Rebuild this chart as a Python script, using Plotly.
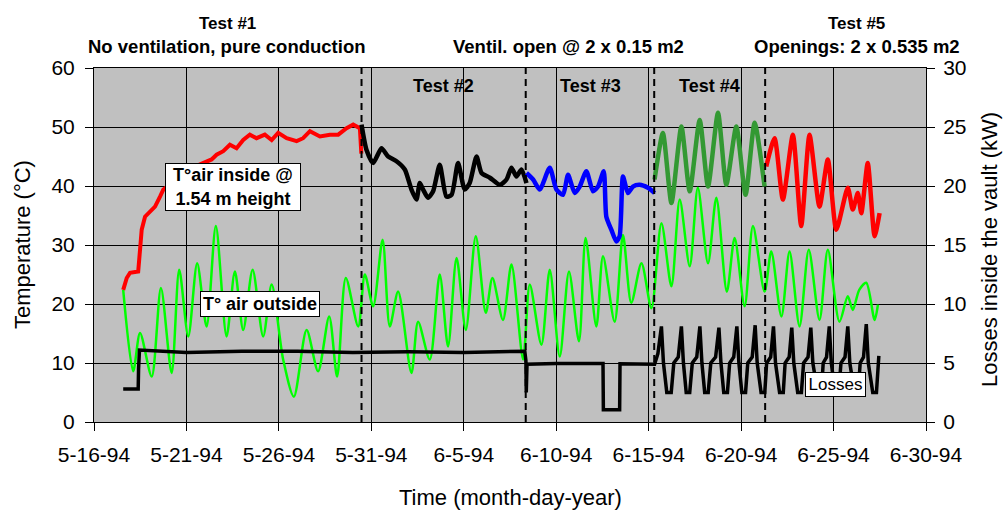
import pandas as pd
import plotly.graph_objects as go

# ---------------- data (days since 1994-05-16) ----------------
start_date = "1994-05-16"
end_date = "1994-06-30"
tick_dates = ["1994-05-16", "1994-05-21", "1994-05-26", "1994-05-31", "1994-06-05",
              "1994-06-10", "1994-06-15", "1994-06-20", "1994-06-25", "1994-06-30"]
tick_labels = ["5-16-94", "5-21-94", "5-26-94", "5-31-94", "6-5-94",
               "6-10-94", "6-15-94", "6-20-94", "6-25-94", "6-30-94"]
test_boundaries = [14.47, 23.35, 30.30, 36.30]

# Inside air temperature, Test 1 (red)
t1_days = [1.58, 1.77, 1.95, 2.39, 2.49, 2.58, 2.76, 3.30, 3.57, 3.75, 4.65, 5.62,
           6.36, 6.63, 6.99, 7.35, 7.71, 8.07, 8.43, 8.79, 9.24, 9.61, 9.96, 10.42,
           10.96, 11.31, 11.68, 12.22, 12.76, 13.21, 13.66, 14.02, 14.38, 14.46]
t1_temp = [22.4, 24.4, 25.3, 25.5, 29.2, 32.6, 34.8, 36.5, 38.2, 39.4, 41.5, 43.5,
           44.5, 45.3, 45.9, 47.0, 46.4, 47.8, 48.7, 48.1, 48.7, 47.8, 49.0, 48.1,
           47.6, 48.1, 49.3, 48.4, 48.7, 48.7, 49.8, 50.4, 49.8, 45.5]

# Test 2 (black)
t2_days = [14.47, 14.74, 15.10, 15.55, 15.91, 16.36, 16.81, 17.17, 17.44, 17.62,
           17.80, 18.07, 18.34, 18.70, 19.06, 19.34, 19.69, 20.05, 20.32, 20.69,
           20.96, 21.41, 21.95, 22.31, 22.58, 22.85, 23.12, 23.39]
t2_temp = [50.4, 46.1, 43.9, 46.4, 45.0, 44.2, 42.8, 39.4, 37.7, 40.5,
           39.4, 38.0, 39.1, 43.6, 38.2, 38.5, 43.9, 39.4, 40.5, 45.0,
           42.2, 41.4, 40.2, 41.1, 43.1, 41.6, 42.8, 40.5]

# Test 3 (blue)
t3_days = [23.39, 23.75, 24.11, 24.65, 25.01, 25.37, 25.64, 26.00, 26.27, 26.63,
           26.99, 27.26, 27.57, 27.71, 27.98, 28.25, 28.43, 28.61, 28.88, 29.15,
           29.51, 29.96, 30.32]
t3_temp = [42.2, 41.1, 39.4, 43.1, 39.4, 38.5, 41.9, 38.8, 39.9, 42.5,
           39.1, 39.9, 42.5, 34.8, 32.6, 30.6, 31.5, 41.6, 38.8, 39.9,
           40.2, 39.7, 38.8]

# Test 4 (dark green)
t4_days = [30.32, 30.77, 31.23, 31.77, 32.22, 32.76, 33.21, 33.75, 34.20, 34.74,
           35.24, 35.73, 36.27]
t4_temp = [41.1, 49.0, 37.1, 50.1, 39.1, 51.2, 39.9, 52.4, 40.2, 50.1,
           38.5, 50.7, 39.9]

# Test 5 (red)
t5_days = [36.36, 36.81, 37.26, 37.80, 38.25, 38.70, 39.24, 39.69, 40.15, 40.77,
           41.04, 41.31, 41.50, 41.85, 42.22, 42.49]
t5_temp = [43.3, 48.1, 37.7, 48.7, 33.2, 48.7, 36.5, 44.5, 32.6, 39.7,
           36.0, 38.8, 35.4, 43.9, 31.5, 35.4]

# Outside air temperature (bright green)
out_days = [1.58, 2.12, 2.49, 3.12, 3.62, 4.20, 4.61, 5.10, 5.58, 6.09,
            6.59, 7.17, 7.62, 8.07, 8.58, 9.15, 9.61, 10.23, 10.81, 11.50,
            12.12, 12.72, 13.15, 13.62, 14.29, 14.65, 15.10, 15.61, 16.00, 16.45,
            17.17, 17.53, 18.16, 18.70, 19.15, 19.61, 20.11, 20.65, 21.19, 21.55,
            22.12, 22.58, 23.21, 23.57, 24.20, 24.65, 25.19, 25.69, 26.23, 26.59,
            27.17, 27.53, 28.16, 28.61, 29.06, 29.61, 30.15, 30.69, 31.23, 31.68,
            32.22, 32.66, 33.21, 33.66, 34.23, 34.65, 35.19, 35.64, 36.27, 36.63,
            37.18, 37.62, 38.16, 38.66, 39.24, 39.69, 40.32, 40.77, 41.04, 41.39,
            41.77, 42.22, 42.40]
out_temp = [22.4, 8.6, 15.1, 7.7, 22.7, 8.3, 25.8, 14.5, 26.9, 16.2,
            33.2, 14.5, 25.5, 15.6, 25.8, 14.5, 23.3, 10.6, 4.3, 15.6,
            8.6, 17.9, 7.7, 24.4, 16.2, 25.0, 19.6, 30.9, 16.2, 22.1,
            8.3, 17.0, 10.6, 25.0, 12.8, 27.8, 15.6, 31.5, 18.5, 24.4,
            17.3, 26.7, 10.6, 23.3, 13.1, 25.8, 11.1, 25.5, 13.7, 31.2,
            16.2, 28.1, 17.0, 31.7, 20.2, 26.9, 19.3, 33.7, 23.0, 37.7,
            26.4, 39.7, 26.9, 38.0, 22.1, 31.2, 19.6, 33.2, 22.1, 28.9,
            17.9, 28.9, 16.2, 29.2, 17.3, 29.2, 17.0, 21.3, 19.0, 22.4,
            23.6, 17.3, 19.9]

# Losses inside the vault (kW, right axis)
loss_days = [1.58, 2.39, 2.41, 2.46, 5.0, 8.0, 11.0, 14.0, 17.0, 20.0,
             23.30, 23.36, 23.38, 23.42, 25.0, 27.53, 27.55, 28.43, 28.45, 30.32,
             30.50, 30.69, 30.80, 30.98, 31.22, 31.36, 31.60,
             31.77, 31.88, 32.03, 32.22, 32.36, 32.60,
             32.77, 32.88, 33.03, 33.22, 33.36, 33.62,
             33.80, 33.91, 34.06, 34.26, 34.38, 34.60,
             34.77, 34.88, 35.04, 35.24, 35.36, 35.60,
             35.76, 35.87, 36.08, 36.28, 36.38, 36.60,
             36.75, 36.86, 37.08, 37.28, 37.38, 37.60,
             37.74, 37.85, 38.06, 38.26, 38.38, 38.62,
             38.77, 38.88, 39.14, 39.34, 39.44, 39.62,
             39.77, 39.88, 40.08, 40.28, 40.40, 40.62,
             40.77, 40.88, 41.13, 41.33, 41.44, 41.62,
             41.77, 41.88, 42.12, 42.32, 42.45]
loss_kw = [2.8, 2.8, 4.5, 6.1, 5.9, 6.0, 6.0, 5.9, 5.95, 5.9,
           6.0, 5.2, 2.5, 4.9, 4.95, 4.95, 1.04, 1.04, 4.94, 4.9,
           5.8, 8.1, 5.0, 2.5, 2.5, 5.0, 5.5,
           8.1, 5.0, 2.5, 2.5, 5.0, 5.5,
           8.1, 5.0, 2.5, 2.5, 5.0, 5.5,
           8.0, 5.0, 2.5, 2.5, 5.0, 5.5,
           8.1, 5.0, 2.5, 2.5, 5.0, 5.5,
           8.2, 5.0, 2.5, 2.5, 5.0, 5.5,
           8.1, 5.0, 2.5, 2.5, 5.0, 5.5,
           8.0, 5.0, 2.5, 2.5, 5.0, 5.5,
           8.0, 5.0, 2.5, 2.5, 5.0, 5.5,
           8.1, 5.0, 2.5, 2.5, 5.0, 5.5,
           8.1, 5.0, 2.5, 2.5, 5.0, 5.5,
           8.3, 5.0, 2.5, 2.5, 5.6]

# ---------------- figure ----------------
base = pd.Timestamp(start_date)


def to_dates(days):
    return base + pd.to_timedelta(days, unit="D")


FONT = "Liberation Sans, Arial, sans-serif"
fig = go.Figure()

fig.add_trace(go.Scatter(x=to_dates(out_days), y=out_temp, mode="lines",
                         line=dict(color="#00FF00", width=2.5, shape="spline",
                                   smoothing=0.8), yaxis="y"))
fig.add_trace(go.Scatter(x=to_dates(loss_days), y=loss_kw, mode="lines",
                         line=dict(color="black", width=3.5), yaxis="y2"))
fig.add_trace(go.Scatter(x=to_dates(t1_days), y=t1_temp, mode="lines",
                         line=dict(color="#FF0000", width=4), yaxis="y"))
for d, t, c in [(t2_days, t2_temp, "black"), (t3_days, t3_temp, "#0000FF"),
                (t4_days, t4_temp, "#339933"), (t5_days, t5_temp, "#FF0000")]:
    fig.add_trace(go.Scatter(x=to_dates(d), y=t, mode="lines",
                             line=dict(color=c, width=4.5, shape="spline", smoothing=0.6),
                             yaxis="y"))

for b in test_boundaries:
    fig.add_shape(type="line", xref="x", yref="paper",
                  x0=to_dates([b])[0], x1=to_dates([b])[0], y0=0, y1=1,
                  line=dict(color="black", width=2, dash="7px,5px"))

axis_common = dict(showline=True, linecolor="black", linewidth=1, ticks="outside",
                   ticklen=8, tickcolor="black", zeroline=False,
                   tickfont=dict(family=FONT, size=21, color="black"))

fig.update_layout(
    width=1005, height=512,
    margin=dict(l=94, r=79, t=68, b=90),
    paper_bgcolor="white", plot_bgcolor="#C0C0C0",
    showlegend=False,
    font=dict(family=FONT, color="black"),
    xaxis=dict(type="date", range=[start_date, end_date],
               tickvals=tick_dates, ticktext=tick_labels,
               showgrid=True, gridcolor="black", gridwidth=1, mirror=True,
               ticklabelstandoff=6, **axis_common),
    yaxis=dict(range=[0, 60], dtick=10, showgrid=True, gridcolor="black",
               gridwidth=1, ticklabelstandoff=6, **axis_common),
    yaxis2=dict(range=[0, 30], dtick=5, overlaying="y", side="right",
                showgrid=False, ticklabelstandoff=4, **axis_common),
)

ann = []
# top titles
ann.append(dict(x=0.16, y=1.127, text="<b>Test #1</b>", size=17))
ann.append(dict(x=0.16, y=1.062, text="<b>No ventilation, pure conduction</b>", size=18.5))
ann.append(dict(x=0.57, y=1.062, text="<b>Ventil. open @ 2 x 0.15 m2</b>", size=18.5))
ann.append(dict(x=0.917, y=1.127, text="<b>Test #5</b>", size=17))
ann.append(dict(x=0.917, y=1.062, text="<b>Openings: 2 x 0.535 m2</b>", size=18.5))
ann.append(dict(x=0.42, y=0.948, text="<b>Test #2</b>", size=18))
ann.append(dict(x=0.597, y=0.948, text="<b>Test #3</b>", size=18))
ann.append(dict(x=0.740, y=0.948, text="<b>Test #4</b>", size=18))
for a in ann:
    fig.add_annotation(x=a["x"], y=a["y"], xref="paper", yref="paper", text=a["text"],
                       showarrow=False, xanchor="center", yanchor="middle",
                       font=dict(family=FONT, size=a["size"], color="black"))

# boxed labels
boxes = [
    (0.1665, 0.665, "<b>T°air inside @<br>1.54 m height</b>", 18, 132, 44),
    (0.1995, 0.332, "<b>T° air outside</b>", 18, 116, 22),
    (0.891, 0.107, "Losses", 17, 57, 21),
]
for x, y, t, s, w, h in boxes:
    fig.add_annotation(x=x, y=y, xref="paper", yref="paper", text=t, showarrow=False,
                       xanchor="center", yanchor="middle", width=w, height=h,
                       bgcolor="white", bordercolor="black", borderwidth=1, borderpad=1,
                       font=dict(family=FONT, size=s, color="black"))

# axis titles
fig.add_annotation(x=-0.0865, y=0.5, xref="paper", yref="paper", text="Temperature (°C)",
                   textangle=-90, showarrow=False, xanchor="center", yanchor="middle",
                   font=dict(family=FONT, size=22, color="black"))
fig.add_annotation(x=1.077, y=0.486, xref="paper", yref="paper",
                   text="Losses inside the vault (kW)", textangle=-90, showarrow=False,
                   xanchor="center", yanchor="middle",
                   font=dict(family=FONT, size=22, color="black"))
fig.add_annotation(x=0.501, y=-0.212, xref="paper", yref="paper",
                   text="Time (month-day-year)", showarrow=False,
                   xanchor="center", yanchor="middle",
                   font=dict(family=FONT, size=22, color="black"))

fig.write_html("out.html")
